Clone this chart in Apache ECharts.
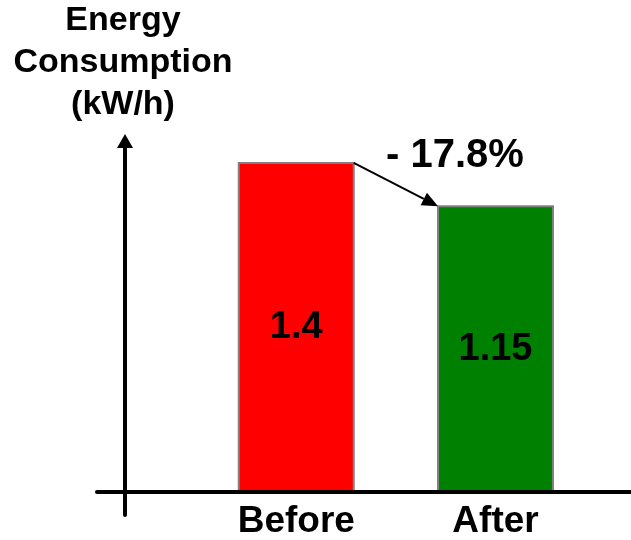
<!DOCTYPE html>
<html>
<head>
<meta charset="utf-8">
<script src="https://cdn.jsdelivr.net/npm/echarts@6/dist/echarts.min.js"></script>
<style>
  html, body { margin: 0; padding: 0; background: #fff; }
  #chart { width: 631px; height: 540px; }
</style>
</head>
<body>
<div id="chart"></div>
<script>
// ---- data ----
const categories = ['Before', 'After'];
const values = [1.4, 1.15];
const valueLabels = ['1.4', '1.15'];
const changeLabel = '- 17.8%';
const axisTitle = ['Energy', 'Consumption', '(kW/h)'];

// ---- styles ----
const FONT = '"Liberation Sans", Arial, sans-serif';
const barColors = ['#FF0000', '#008000'];
const BAR_W = 0.577;   // bar width in x-axis units
const Y_MIN = -0.5;
const Y_MAX = 2.0;

const chart = echarts.init(document.getElementById('chart'), null, { renderer: 'canvas' });

const option = {
  animation: false,
  backgroundColor: '#ffffff',
  grid: [
    { left: 97, right: 0, top: 59, bottom: 48 },
    { left: 125, width: 10, top: 140, bottom: 25 }
  ],
  xAxis: [
    {
      type: 'value', gridIndex: 0, min: -1, max: 1.68, interval: 1, z: 10,
      axisLine: { show: true, onZero: false, lineStyle: { color: '#000', width: 4 } },
      axisTick: { show: false },
      splitLine: { show: false },
      axisLabel: {
        showMinLabel: false, showMaxLabel: false,
        formatter: v => (categories[v] !== undefined ? categories[v] : ''),
        color: '#000', fontFamily: FONT, fontWeight: 'bold', fontSize: 37, margin: 11
      }
    },
    { type: 'value', gridIndex: 1, show: false, min: 0, max: 1 }
  ],
  yAxis: [
    { type: 'value', gridIndex: 0, min: Y_MIN, max: Y_MAX, show: false },
    {
      type: 'value', gridIndex: 1, min: 0, max: 1, z: 10,
      axisLine: {
        show: true, onZero: false,
        lineStyle: { color: '#000', width: 4 },
        symbol: ['none', 'triangle'], symbolSize: [16, 14]
      },
      axisTick: { show: false },
      axisLabel: { show: false },
      splitLine: { show: false },
      name: axisTitle.join('\n'),
      nameLocation: 'end',
      nameGap: 15,
      nameTextStyle: {
        color: '#000', fontFamily: FONT, fontWeight: 'bold', fontSize: 34,
        lineHeight: 42, align: 'center', verticalAlign: 'bottom', padding: [0, 4, 0, 0]
      }
    }
  ],
  series: [
    {
      type: 'custom', xAxisIndex: 0, yAxisIndex: 0, z: 2,
      data: values.map((v, i) => [i, v]),
      renderItem: (params, api) => {
        const i = api.value(0), v = api.value(1);
        const tl = api.coord([i - BAR_W / 2, v]);
        const br = api.coord([i + BAR_W / 2, Y_MIN]);
        return {
          type: 'group',
          children: [
            {
              type: 'rect',
              shape: { x: tl[0], y: tl[1], width: br[0] - tl[0], height: br[1] - tl[1] },
              style: { fill: barColors[params.dataIndex], stroke: '#808080', lineWidth: 2 }
            },
            {
              type: 'text',
              x: (tl[0] + br[0]) / 2, y: (tl[1] + br[1]) / 2,
              style: {
                text: valueLabels[params.dataIndex], fill: '#000',
                font: 'bold 38px ' + FONT, align: 'center', verticalAlign: 'middle'
              }
            }
          ]
        };
      }
    },
    {
      type: 'custom', xAxisIndex: 0, yAxisIndex: 0, z: 3,
      data: [[0, values[0], 1, values[1]]],
      renderItem: (params, api) => {
        const a = api.coord([api.value(0) + BAR_W / 2, api.value(1)]);
        const b = api.coord([api.value(2) - BAR_W / 2, api.value(3)]);
        const ang = Math.atan2(b[1] - a[1], b[0] - a[0]);
        const L = 16, W = 7;
        const c = Math.cos(ang), s = Math.sin(ang);
        const base = [b[0] - L * c, b[1] - L * s];
        return {
          type: 'group',
          children: [
            {
              type: 'line',
              shape: { x1: a[0], y1: a[1], x2: base[0], y2: base[1] },
              style: { stroke: '#000', lineWidth: 2 }
            },
            {
              type: 'polygon',
              shape: { points: [b, [base[0] - W * s, base[1] + W * c], [base[0] + W * s, base[1] - W * c]] },
              style: { fill: '#000' }
            }
          ]
        };
      }
    }
  ],
  graphic: [
    {
      type: 'text', x: 455, y: 156,
      style: {
        text: changeLabel, fill: '#000', font: 'bold 40px ' + FONT,
        align: 'center', verticalAlign: 'middle'
      }
    }
  ]
};

chart.setOption(option);
</script>
</body>
</html>
